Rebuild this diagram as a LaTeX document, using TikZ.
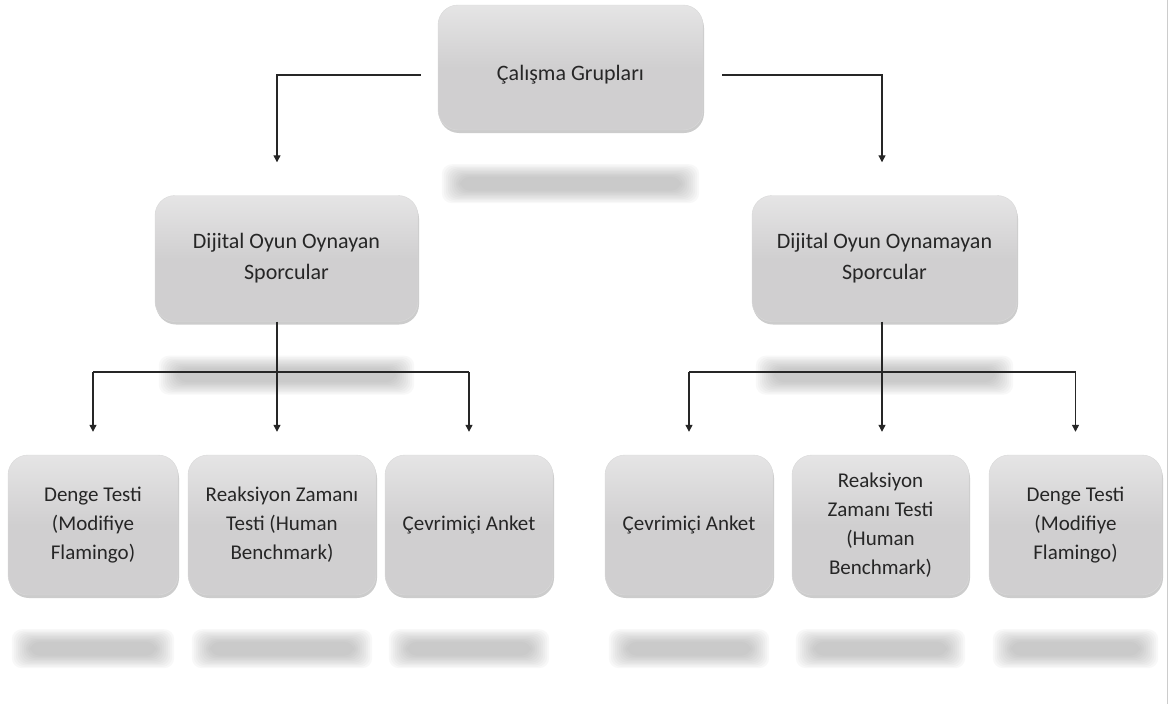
\documentclass[tikz,border=0pt]{standalone}
\usepackage{fontspec}
\setmainfont{Carlito}
\usetikzlibrary{arrows.meta,calc,shadows}

\definecolor{boxfill}{RGB}{208,207,208}
\definecolor{barfill}{RGB}{140,140,140}

% blurred grey bar under a box
\newcommand{\mirrorbar}[1]{%
  \foreach \k in {0,...,9}
    \fill[barfill,opacity=0.055,rounded corners=10pt]
      ($(#1.south west)+(4+2*\k,34+1.4*\k)$) rectangle
      ($(#1.south east)+(-4-2*\k,73-1.4*\k)$);}

\begin{document}
\begin{tikzpicture}
  [x=1pt,y=-1pt,
   grupbox/.style={rectangle,rounded corners=20pt,draw=gray!30,
                   top color=boxfill!55!white,bottom color=boxfill,middle color=boxfill,
                   drop shadow={shadow xshift=1pt,shadow yshift=-3pt,opacity=0.4},
                   align=center,inner sep=0pt,text=black!85,
                   font=\fontsize{21}{29}\selectfont},
   line/.style={draw=black!85,line width=1.2pt},
   arr/.style={line,-{Triangle[length=7pt,width=7pt]}}]
  \fill[white] (0,0) rectangle (1172,704);
  \useasboundingbox (0,0) rectangle (1172,704);

  \node (top) at (570.5,67.5) [grupbox,minimum width=265pt,minimum height=125pt,
    font=\fontsize{22}{30}\selectfont] {\raisebox{-13pt}[0pt][0pt]{Çalışma Grupları}};
  \node (oynayan) at (286.5,258.5) [grupbox,minimum width=263pt,minimum height=126pt,
    font=\fontsize{22}{31}\selectfont] {Dijital Oyun Oynayan\\Sporcular};
  \node (oynamayan) at (884.5,258.5) [grupbox,minimum width=265pt,minimum height=126pt,
    font=\fontsize{22}{31}\selectfont] {Dijital Oyun Oynamayan\\Sporcular};

  \node (d1) at (93,525) [grupbox,minimum width=170pt,minimum height=140pt] {Denge Testi\\(Modifiye\\Flamingo)};
  \node (d2) at (282,525) [grupbox,minimum width=188pt,minimum height=140pt] {Reaksiyon Zamanı\\Testi (Human\\Benchmark)};
  \node (d3) at (469,525) [grupbox,minimum width=168pt,minimum height=140pt] {Çevrimiçi Anket};
  \node (d4) at (689,525) [grupbox,minimum width=168pt,minimum height=140pt] {Çevrimiçi Anket};
  \node (d5) at (880.5,525) [grupbox,minimum width=177pt,minimum height=140pt] {Reaksiyon\\Zamanı Testi\\(Human\\Benchmark)};
  \node (d6) at (1075.5,525) [grupbox,minimum width=173pt,minimum height=140pt] {Denge Testi\\(Modifiye\\Flamingo)};

  \foreach \n in {top,oynayan,oynamayan,d1,d2,d3,d4,d5,d6}
    \mirrorbar{\n};

  \coordinate (lbus) at (277,372);
  \coordinate (rbus) at (882,372);

  \draw[arr] ($(top.west)+(-17,7.5)$) -| ($(lbus |- oynayan.north)+(0,-33)$);
  \draw[arr] ($(top.east)+(19,7.5)$) -| ($(rbus |- oynamayan.north)+(0,-33)$);

  \draw[line] (oynayan.south -| lbus) -- (lbus);
  \draw[line] (lbus -| d1) -- (lbus -| d3);
  \draw[arr] (lbus -| d1) -- ($(d1.north)+(0,-23)$);
  \draw[arr] (lbus) -- ($(lbus |- d2.north)+(0,-23)$);
  \draw[arr] (lbus -| d3) -- ($(d3.north)+(0,-23)$);

  \draw[line] (oynamayan.south -| rbus) -- (rbus);
  \draw[line] (rbus -| d4) -- (rbus -| d6);
  \draw[arr] (rbus -| d4) -- ($(d4.north)+(0,-23)$);
  \draw[arr] (rbus) -- ($(rbus |- d5.north)+(0,-23)$);
  \draw[arr] (rbus -| d6) -- ($(d6.north)+(0,-23)$);

  \draw[gray!40,line width=1pt] (1167,0) -- (1167,704);
\end{tikzpicture}
\end{document}
